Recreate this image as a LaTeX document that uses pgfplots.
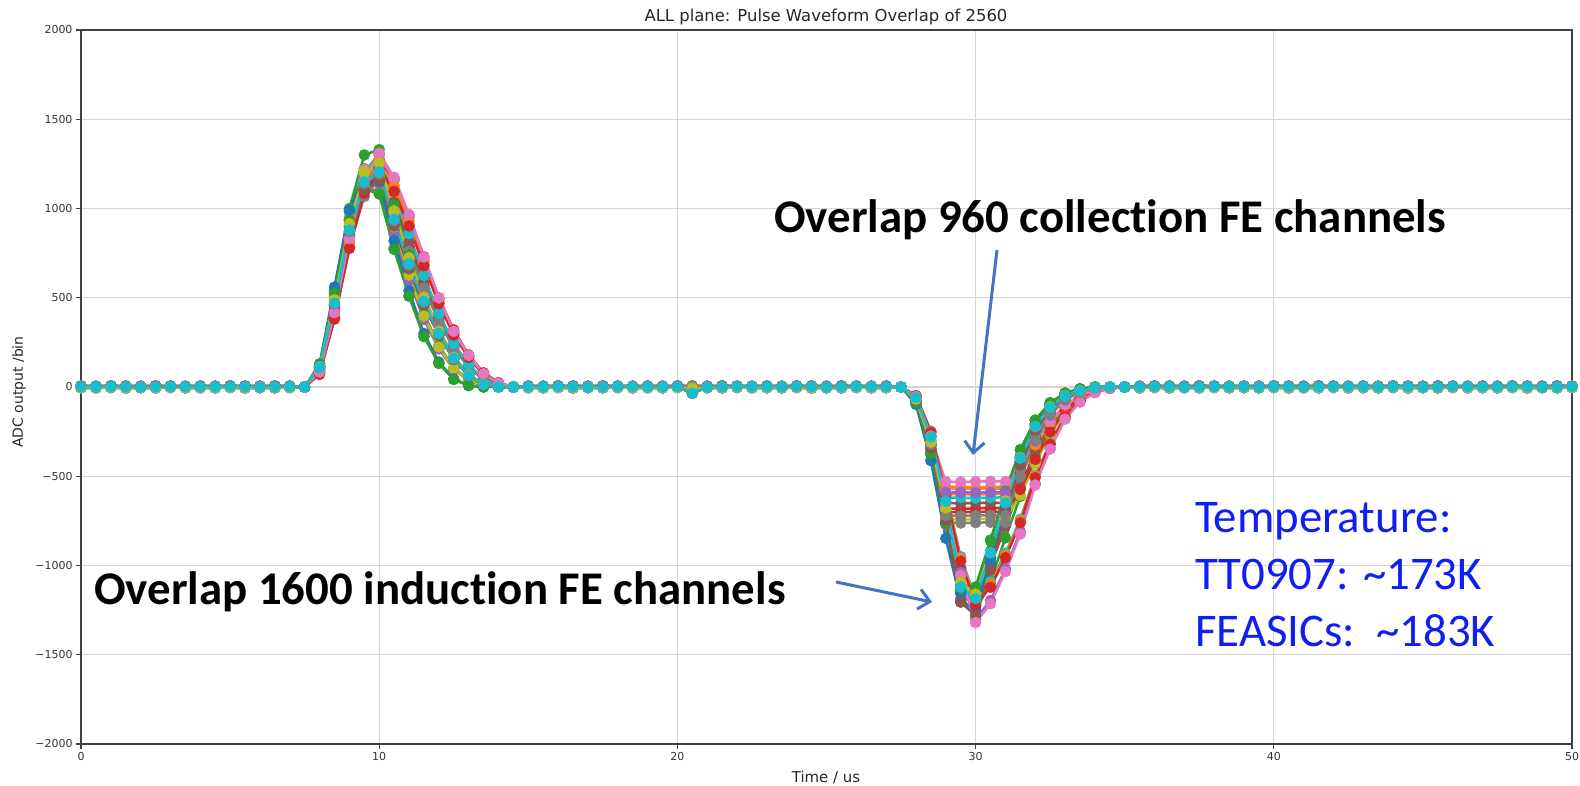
\documentclass[border=0pt]{standalone}
\usepackage{pgfplots}
\pgfplotsset{compat=1.18}
\usepackage{pgfplotstable}
\usepackage{fontspec}
\usetikzlibrary{arrows.meta}
\setmainfont{DejaVu Sans}
\newfontfamily\calibri[Ligatures=NoCommon]{Carlito}

% matplotlib tab10 colour cycle
\definecolor{C0}{HTML}{1F77B4}
\definecolor{C1}{HTML}{FF7F0E}
\definecolor{C2}{HTML}{2CA02C}
\definecolor{C3}{HTML}{D62728}
\definecolor{C4}{HTML}{9467BD}
\definecolor{C5}{HTML}{8C564B}
\definecolor{C6}{HTML}{E377C2}
\definecolor{C7}{HTML}{7F7F7F}
\definecolor{C8}{HTML}{BCBD22}
\definecolor{C9}{HTML}{17BECF}
\definecolor{arrowblue}{HTML}{4472C4}
\definecolor{noteblue}{RGB}{15,30,245}

% pulse samples (0.5 us step) for 30 representative channels:
% positive calibration pulse and negative response (plateau = collection, V = induction)
\pgfplotstableread{
x s1 s2 s3 s4 s5 s6 s7 s8 s9 s10 s11 s12 s13 s14 s15 s16 s17 s18 s19 s20 s21 s22 s23 s24 s25 s26 s27 s28 s29 s30
7.5 0 0 0 0 0 0 0 0 0 0 0 0 0 0 0 0 0 0 0 0 0 0 0 0 0 0 0 0 0 0
8.0 112 78 130 70 85 107 82 114 116 108 120 80 113 78 105 106 83 109 114 110 115 97 121 92 112 95 117 89 117 101
8.5 479 392 540 380 420 456 412 532 494 461 560 400 526 388 460 451 416 465 489 470 515 444 541 422 500 435 498 409 525 461
9.0 898 784 1000 780 840 854 824 941 924 862 990 800 931 776 870 845 832 871 915 880 935 857 982 815 907 840 933 790 954 890
9.5 1173 1098 1300 1100 1170 1116 1154 1121 1208 1127 1180 1120 1109 1086 1140 1104 1165 1139 1196 1150 1165 1158 1223 1101 1130 1135 1219 1067 1188 1203
10.0 1229 1235 1330 1270 1300 1169 1298 1093 1265 1181 1150 1260 1081 1222 1215 1157 1310 1193 1253 1205 1178 1258 1237 1196 1143 1233 1277 1159 1202 1307
10.5 959 1107 1020 1160 1160 912 1164 779 987 921 820 1130 771 1096 960 902 1175 931 978 940 880 1056 924 1004 854 1035 996 973 898 1097
11.0 704 911 740 960 950 669 958 513 725 676 540 930 508 902 710 662 967 683 718 690 615 826 646 786 597 810 731 761 627 859
11.5 490 686 500 730 710 466 721 285 504 470 300 700 282 679 500 461 728 475 499 480 390 602 410 572 378 590 509 555 398 625
12.0 306 470 310 500 490 291 494 133 315 294 140 480 132 466 315 288 499 297 312 300 220 398 231 378 213 390 318 367 224 413
12.5 163 294 160 320 305 155 309 43 168 157 45 300 42 291 170 154 312 158 166 160 103 235 108 223 100 230 170 216 105 244
13.0 66 167 60 180 172 63 175 8 68 64 8 170 8 165 70 62 177 64 68 65 37 120 39 114 36 118 69 111 38 125
13.5 15 69 12 80 72 15 72 0 16 15 0 70 0 68 17 14 73 15 16 15 8 44 8 42 8 43 16 40 8 46
14.0 0 20 0 25 20 0 21 0 0 0 0 20 0 19 0 0 21 0 0 0 0 10 0 10 0 10 0 9 0 11
14.5 0 0 0 0 0 0 0 0 0 0 0 0 0 0 0 0 0 0 0 0 0 0 0 0 0 0 0 0 0 0
nan nan nan nan nan nan nan nan nan nan nan nan nan nan nan nan nan nan nan nan nan nan nan nan nan nan nan nan nan nan nan
27.5 0 0 0 0 0 0 0 0 0 0 0 0 0 0 0 0 0 0 0 0 0 0 0 0 0 0 0 0 0 0
28.0 -72 -50 -88 -50 -52 -70 -50 -90 -69 -70 -98 -48 -88 -49 -70 -75 -53 -70 -68 -60 -80 -50 -62 -70 -83 -57 -70 -71 -50 -48
28.5 -328 -280 -372 -280 -270 -320 -280 -380 -315 -320 -413 -250 -372 -254 -320 -341 -275 -320 -309 -280 -350 -280 -299 -320 -364 -276 -320 -326 -280 -247
29.0 -718 -560 -764 -700 -645 -650 -530 -760 -688 -620 -848 -595 -764 -605 -590 -747 -655 -720 -677 -640 -740 -600 -680 -680 -770 -627 -570 -714 -740 -589
29.5 -1158 -560 -1127 -702 -1040 -652 -532 -762 -1111 -620 -1200 -960 -1110 -976 -590 -1206 -1056 -722 -1093 -1120 -1140 -600 -1097 -682 -1186 -1012 -572 -1153 -742 -950
30.0 -1230 -565 -1130 -700 -1300 -650 -530 -760 -1180 -622 -1250 -1200 -1120 -1220 -592 -1280 -1320 -720 -1160 -1185 -1210 -602 -1262 -680 -1258 -1164 -570 -1224 -740 -1188
30.5 -984 -560 -862 -698 -1196 -648 -528 -758 -944 -620 -957 -1104 -857 -1122 -590 -1024 -1214 -718 -928 -930 -920 -600 -1087 -678 -957 -1002 -568 -979 -738 -1093
31.0 -677 -558 -588 -700 -1019 -650 -530 -760 -649 -618 -652 -941 -584 -956 -590 -704 -1035 -720 -638 -650 -630 -600 -845 -680 -655 -779 -570 -673 -740 -931
31.5 -420 -459 -353 -574 -811 -455 -435 -456 -403 -434 -391 -749 -350 -761 -413 -437 -824 -504 -396 -400 -385 -492 -613 -476 -400 -565 -399 -418 -607 -741
32.0 -236 -325 -186 -406 -541 -273 -307 -243 -226 -260 -207 -499 -185 -508 -248 -245 -549 -302 -222 -220 -210 -348 -386 -286 -218 -356 -239 -235 -429 -494
32.5 -118 -202 -88 -252 -343 -143 -191 -114 -113 -136 -98 -317 -88 -322 -130 -123 -348 -158 -111 -115 -103 -216 -229 -150 -107 -211 -125 -117 -266 -314
33.0 -51 -106 -34 -133 -177 -65 -101 -46 -49 -62 -38 -163 -34 -166 -59 -53 -180 -72 -48 -50 -43 -114 -113 -68 -45 -105 -57 -51 -141 -162
33.5 -21 -50 -10 -63 -83 -26 -48 -15 -20 -25 -11 -77 -10 -78 -24 -21 -84 -29 -19 -20 -15 -54 -52 -27 -16 -48 -23 -20 -67 -76
34.0 -5 -17 0 -21 -31 -7 -16 0 -5 -6 0 -29 0 -29 -6 -5 -32 -7 -5 -5 -3 -18 -18 -7 -3 -16 -6 -5 -22 -29
34.5 0 -6 0 -7 -8 0 -5 0 0 0 0 -8 0 -8 0 0 -8 0 0 0 0 -6 -4 0 0 -4 0 0 -7 -8
35.0 0 0 0 0 0 0 0 0 0 0 0 0 0 0 0 0 0 0 0 0 0 0 0 0 0 0 0 0 0 0
}\pulse

% baseline samples between the pulses (four noise patterns)
\pgfplotstableread{
x b0 b1 b2 b3
0 0 5 -4 1
0.5 2 4 -5 0
1 -1 6 -3 2
1.5 0 5 -6 1
2 1 4 -4 -1
2.5 -2 6 -5 0
3 0 5 -3 2
3.5 1 4 -5 1
4 0 5 -4 1
4.5 2 4 -5 0
5 -1 6 -3 2
5.5 0 5 -6 1
6 1 4 -4 -1
6.5 -2 6 -5 0
7 0 5 -3 2
7.5 0 0 0 0
nan nan nan nan nan
14.5 0 0 0 0
15 0 5 -4 1
15.5 2 4 -5 0
16 -1 6 -3 2
16.5 0 5 -6 1
17 1 4 -4 -1
17.5 -2 6 -5 0
18 0 5 -3 2
18.5 1 4 -5 1
19 0 5 -4 1
19.5 2 4 -5 0
20 -1 6 -3 2
20.5 0 5 -6 -35
21 1 4 -4 -1
21.5 -2 6 -5 0
22 0 5 -3 2
22.5 1 4 -5 1
23 0 5 -4 1
23.5 2 4 -5 0
24 -1 6 -3 2
24.5 0 5 -6 1
25 1 4 -4 -1
25.5 -2 6 -5 0
26 0 5 -3 2
26.5 1 4 -5 1
27 0 5 -4 1
27.5 0 0 0 0
nan nan nan nan nan
35 0 0 0 0
35.5 2 4 -5 0
36 -1 6 -3 2
36.5 0 5 -6 1
37 1 4 -4 -1
37.5 -2 6 -5 0
38 0 5 -3 2
38.5 1 4 -5 1
39 0 5 -4 1
39.5 2 4 -5 0
40 -1 6 -3 2
40.5 0 5 -6 1
41 1 4 -4 -1
41.5 -2 6 -5 0
42 0 5 -3 2
42.5 1 4 -5 1
43 0 5 -4 1
43.5 2 4 -5 0
44 -1 6 -3 2
44.5 0 5 -6 1
45 1 4 -4 -1
45.5 -2 6 -5 0
46 0 5 -3 2
46.5 1 4 -5 1
47 0 5 -4 1
47.5 2 4 -5 0
48 -1 6 -3 2
48.5 0 5 -6 1
49 1 4 -4 -1
49.5 -2 6 -5 0
50 0 5 -3 2
}\base

\pgfplotsset{
  wave/.style={color=#1, line width=2.5bp, mark=*, mark size=5.5bp,
    mark options={solid, fill=#1, draw=#1, line width=0.4bp}},
}

\begin{document}
\begin{tikzpicture}
\useasboundingbox (0,0) rectangle (1580bp,786bp);
\begin{axis}[
  at={(81bp,42bp)}, anchor=south west,
  scale only axis, width=1491bp, height=714bp,
  xmin=0, xmax=50, ymin=-2000, ymax=2000,
  xtick={0,10,20,30,40,50},
  xticklabels={0,10,20,30,40,50},
  ytick={-2000,-1500,-1000,-500,0,500,1000,1500,2000},
  yticklabels={−2000,−1500,−1000,−500,0,500,1000,1500,2000},
  tick align=outside, xtick pos=left, ytick pos=left,
  major tick length=5bp,
  tick style={color=black!75, line width=1.2bp},
  grid=major,
  major grid style={color=black!17, line width=1.3bp},
  axis line style={color=black!75, line width=1.6bp},
  tick label style={font=\fontsize{11}{11}\selectfont, text=black!80},
  unbounded coords=jump,
]
\addplot[wave=C0] table[y=b0] {\base};
\addplot[wave=C0] table[y=s21] {\pulse};
\addplot[wave=C1] table[y=b1] {\base};
\addplot[wave=C1] table[y=s22] {\pulse};
\addplot[wave=C2] table[y=b2] {\base};
\addplot[wave=C2] table[y=s23] {\pulse};
\addplot[wave=C3] table[y=b3] {\base};
\addplot[wave=C3] table[y=s24] {\pulse};
\addplot[wave=C4] table[y=b0] {\base};
\addplot[wave=C4] table[y=s25] {\pulse};
\addplot[wave=C5] table[y=b1] {\base};
\addplot[wave=C5] table[y=s26] {\pulse};
\addplot[wave=C6] table[y=b2] {\base};
\addplot[wave=C6] table[y=s27] {\pulse};
\addplot[wave=C7] table[y=b3] {\base};
\addplot[wave=C7] table[y=s28] {\pulse};
\addplot[wave=C8] table[y=b0] {\base};
\addplot[wave=C8] table[y=s29] {\pulse};
\addplot[wave=C9] table[y=b1] {\base};
\addplot[wave=C9] table[y=s30] {\pulse};
\addplot[wave=C0] table[y=b0] {\base};
\addplot[wave=C0] table[y=s1] {\pulse};
\addplot[wave=C1] table[y=b1] {\base};
\addplot[wave=C1] table[y=s2] {\pulse};
\addplot[wave=C2] table[y=b2] {\base};
\addplot[wave=C2] table[y=s3] {\pulse};
\addplot[wave=C3] table[y=b3] {\base};
\addplot[wave=C3] table[y=s4] {\pulse};
\addplot[wave=C4] table[y=b0] {\base};
\addplot[wave=C4] table[y=s5] {\pulse};
\addplot[wave=C5] table[y=b1] {\base};
\addplot[wave=C5] table[y=s6] {\pulse};
\addplot[wave=C6] table[y=b2] {\base};
\addplot[wave=C6] table[y=s7] {\pulse};
\addplot[wave=C7] table[y=b3] {\base};
\addplot[wave=C7] table[y=s8] {\pulse};
\addplot[wave=C8] table[y=b0] {\base};
\addplot[wave=C8] table[y=s9] {\pulse};
\addplot[wave=C9] table[y=b1] {\base};
\addplot[wave=C9] table[y=s10] {\pulse};
\addplot[wave=C0] table[y=b2] {\base};
\addplot[wave=C0] table[y=s11] {\pulse};
\addplot[wave=C1] table[y=b3] {\base};
\addplot[wave=C1] table[y=s12] {\pulse};
\addplot[wave=C2] table[y=b0] {\base};
\addplot[wave=C2] table[y=s13] {\pulse};
\addplot[wave=C3] table[y=b1] {\base};
\addplot[wave=C3] table[y=s14] {\pulse};
\addplot[wave=C4] table[y=b2] {\base};
\addplot[wave=C4] table[y=s15] {\pulse};
\addplot[wave=C5] table[y=b3] {\base};
\addplot[wave=C5] table[y=s16] {\pulse};
\addplot[wave=C6] table[y=b0] {\base};
\addplot[wave=C6] table[y=s17] {\pulse};
\addplot[wave=C7] table[y=b1] {\base};
\addplot[wave=C7] table[y=s18] {\pulse};
\addplot[wave=C8] table[y=b2] {\base};
\addplot[wave=C8] table[y=s19] {\pulse};
\addplot[wave=C9] table[y=b3] {\base};
\addplot[wave=C9] table[y=s20] {\pulse};
\end{axis}

% title and axis labels
\node[anchor=base, inner sep=0, text=black!85, font=\fontsize{16.5}{16.5}\selectfont]
  at (826bp,764bp) {ALL plane: Pulse Waveform Overlap of 2560};
\node[anchor=base, inner sep=0, text=black!85, font=\fontsize{15}{15}\selectfont]
  at (826bp,4bp) {Time / us};
\node[rotate=90, inner sep=0, text=black!85, font=\fontsize{14}{14}\selectfont]
  at (19bp,394bp) {ADC output /bin};

% annotations
\node[anchor=base west, inner sep=0, font=\calibri\bfseries\fontsize{47}{47}\selectfont]
  at (774bp,553bp) {Overlap 960 collection FE channels};
\node[anchor=base west, inner sep=0, font=\calibri\bfseries\fontsize{47}{47}\selectfont]
  at (94bp,181bp) {Overlap 1600 induction FE channels};
\draw[arrowblue, line width=3bp, -{Straight Barb[length=11bp, width=20bp, line width=3bp]}]
  (997bp,536bp) -- (973bp,331bp);
\draw[arrowblue, line width=3bp, -{Straight Barb[length=11bp, width=20bp, line width=3bp]}]
  (836bp,204bp) -- (932bp,184bp);

\node[anchor=base west, inner sep=0, text=noteblue, font=\calibri\fontsize{47}{47}\selectfont]
  at (1195bp,253bp) {Temperature:};
\node[anchor=base west, inner sep=0, text=noteblue, font=\calibri\fontsize{47}{47}\selectfont]
  at (1195bp,196bp) {TT0907: \textasciitilde173K};
\node[anchor=base west, inner sep=0, text=noteblue, font=\calibri\fontsize{47}{47}\selectfont]
  at (1195bp,139bp) {FEASICs:\ \ \textasciitilde183K};
\end{tikzpicture}
\end{document}
